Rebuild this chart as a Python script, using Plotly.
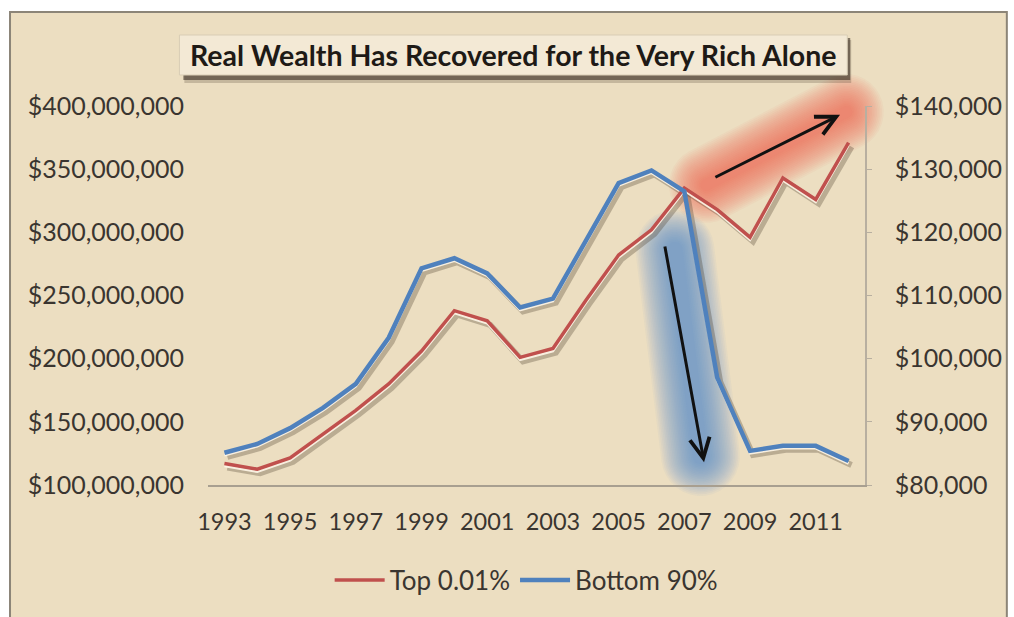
import math
import plotly.graph_objects as go

# ---------------- data ----------------
years = list(range(1993, 2013))
top_001 = [117e6, 112.5e6, 121.5e6, 140e6, 159e6, 180e6, 206e6, 238e6, 230e6, 201e6,
           208e6, 246e6, 282e6, 302e6, 335e6, 318e6, 296e6, 343e6, 326e6, 371e6]
bottom_90 = [85100, 86500, 89000, 92200, 96000, 103300, 114300, 115900, 113500, 108100,
             109500, 118700, 127800, 129800, 126500, 97000, 85400, 86200, 86200, 83800]
tick_years = [1993, 1995, 1997, 1999, 2001, 2003, 2005, 2007, 2009, 2011]
left_ticks = [100e6, 150e6, 200e6, 250e6, 300e6, 350e6, 400e6]
left_labels = ["$100,000,000", "$150,000,000", "$200,000,000", "$250,000,000",
               "$300,000,000", "$350,000,000", "$400,000,000"]
right_ticks = [80000, 90000, 100000, 110000, 120000, 130000, 140000]
right_labels = ["$80,000", "$90,000", "$100,000", "$110,000", "$120,000", "$130,000", "$140,000"]
series_names = ["Top 0.01%", "Bottom 90%"]
title_text = "Real Wealth Has Recovered for the Very Rich Alone"

# ---------------- geometry ----------------
W, H = 1014, 617
L, R, T, B = 208, 875, 106, 485
PW, PH = R - L, B - T
XR = [1992.5, 2012.5]
YL = [100e6, 400e6]
YR = [80000, 140000]


def px(x):
    return (x - L) / PW


def py(y):
    return (B - y) / PH


def xshift(dpx):
    s = dpx * (XR[1] - XR[0]) / PW
    return [XR[0] - s, XR[1] - s]


def yshift(rng, dpx):
    d = dpx * (rng[1] - rng[0]) / PH
    return [rng[0] + d, rng[1] + d]


RED = "#C0504D"
BLUE = "#4F81BD"
TXT = "#3A3530"
FONT = "Lato"

fig = go.Figure()

# shadows (base subplot)
fig.add_trace(go.Scatter(x=years, y=top_001, xaxis="x", yaxis="y", mode="lines",
                         line=dict(color="rgba(70,55,40,0.30)", width=6), showlegend=False,
                         hoverinfo="skip"))
fig.add_trace(go.Scatter(x=years, y=bottom_90, xaxis="x", yaxis="y2", mode="lines",
                         line=dict(color="rgba(70,55,40,0.30)", width=6), showlegend=False,
                         hoverinfo="skip"))
# pale bevel
fig.add_trace(go.Scatter(x=years, y=top_001, xaxis="x2", yaxis="y3", mode="lines",
                         line=dict(color="rgba(255,246,232,0.9)", width=2.5), showlegend=False,
                         hoverinfo="skip"))
fig.add_trace(go.Scatter(x=years, y=bottom_90, xaxis="x2", yaxis="y4", mode="lines",
                         line=dict(color="rgba(255,246,232,0.9)", width=2.5), showlegend=False,
                         hoverinfo="skip"))
# main lines
fig.add_trace(go.Scatter(x=years, y=top_001, xaxis="x2", yaxis="y5", mode="lines",
                         name=series_names[0], line=dict(color=RED, width=3.5)))
fig.add_trace(go.Scatter(x=years, y=bottom_90, xaxis="x2", yaxis="y6", mode="lines",
                         name=series_names[1], line=dict(color=BLUE, width=4.5)))

hidden = dict(visible=False, showgrid=False, zeroline=False)

layout = dict(
    width=W, height=H,
    margin=dict(l=L, r=W - R, t=T, b=H - B),
    paper_bgcolor="white",
    plot_bgcolor="rgba(0,0,0,0)",
    showlegend=True,
    xaxis=dict(range=xshift(3), **hidden),
    yaxis=dict(range=yshift(YL, 4), **hidden),
    yaxis2=dict(range=yshift(YR, 4), overlaying="y", **hidden),
    xaxis2=dict(range=XR, overlaying="x", side="bottom", tickvals=tick_years,
                ticktext=[str(v) for v in tick_years], showgrid=False, zeroline=False,
                showline=True, linecolor="#A89F90", linewidth=1.5, ticks="",
                tickfont=dict(family=FONT, size=23.5, color=TXT), ticklabelstandoff=15),
    yaxis3=dict(range=yshift(YL, 2.5), overlaying="y", **hidden),
    yaxis4=dict(range=yshift(YR, 2.5), overlaying="y", **hidden),
    yaxis5=dict(range=YL, overlaying="y", side="left", tickvals=left_ticks,
                ticktext=left_labels, showgrid=False, zeroline=False, showline=False,
                ticks="", tickfont=dict(family=FONT, size=25, color=TXT),
                ticklabelstandoff=23),
    yaxis6=dict(range=YR, overlaying="y", side="right", tickvals=right_ticks,
                ticktext=right_labels, showgrid=False, zeroline=False, showline=True,
                linecolor="#B8AFA0", linewidth=1.5, ticks="outside", ticklen=5,
                tickcolor="#B8AFA0", tickfont=dict(family=FONT, size=25, color=TXT),
                ticklabelstandoff=18),
    legend=dict(orientation="h", x=px(531), y=py(580), xanchor="center", yanchor="middle",
                font=dict(family=FONT, size=26, color=TXT), bgcolor="rgba(0,0,0,0)",
                itemwidth=50, tracegroupgap=0),
)
fig.update_layout(**layout)

shapes = []
# parchment background
shapes.append(dict(type="rect", xref="paper", yref="paper", layer="below",
                   x0=px(7), x1=px(W + 5), y0=py(H + 5), y1=py(12),
                   fillcolor="#ECDEC1", line=dict(color="#8C8578", width=2)))


def capsule_path(p0, p1, hw, n=16):
    (x0, y0), (x1, y1) = p0, p1
    dx, dy = x1 - x0, y1 - y0
    ln = math.hypot(dx, dy)
    nx, ny = -dy / ln, dx / ln
    a = math.atan2(ny, nx)
    pts = []
    for i in range(n + 1):
        t = a - math.pi * i / n
        pts.append((x1 + hw * math.cos(t), y1 + hw * math.sin(t)))
    for i in range(n + 1):
        t = a - math.pi - math.pi * i / n
        pts.append((x0 + hw * math.cos(t), y0 + hw * math.sin(t)))
    d = "M " + " L ".join(f"{px(x):.5f},{py(y):.5f}" for x, y in pts) + " Z"
    return d


def glow(p0, p1, hw_max, hw_min, steps, color):
    for k in range(steps):
        hw = hw_max - (hw_max - hw_min) * k / (steps - 1)
        shapes.append(dict(type="path", xref="paper", yref="paper", layer="below",
                           path=capsule_path(p0, p1, hw), fillcolor=color,
                           line=dict(width=0)))


glow((714, 185), (856, 112), 38, 6, 20, "rgba(226,95,80,0.05)")
glow((682, 250), (708, 456), 40, 8, 20, "rgba(85,135,210,0.05)")

# title box shadow + box
shapes.append(dict(type="rect", xref="paper", yref="paper", layer="below",
                   x0=px(184), x1=px(861), y0=py(83), y1=py(40),
                   fillcolor="rgba(60,45,30,0.22)", line=dict(width=0)))
shapes.append(dict(type="rect", xref="paper", yref="paper", layer="below",
                   x0=px(183), x1=px(860), y0=py(80), y1=py(38),
                   fillcolor="rgba(45,35,25,0.55)", line=dict(width=0)))
shapes.append(dict(type="rect", xref="paper", yref="paper", layer="below",
                   x0=px(179), x1=px(857), y0=py(75), y1=py(35),
                   fillcolor="#F3E9D5", line=dict(color="#D9CDB5", width=1)))
fig.update_layout(shapes=shapes)

annotations = [
    dict(xref="paper", yref="paper", x=px(518), y=py(55), text=title_text, showarrow=False,
         font=dict(family=FONT, size=28.5, color="#1E1A16", weight="bold"),
         xanchor="center", yanchor="middle"),
    dict(xref="x2", yref="y5", axref="x2", ayref="y5", x=2011.74, y=393e6, ax=2007.9, ay=343e6,
         text="", showarrow=True, arrowhead=5, arrowsize=1.3, arrowwidth=3, arrowcolor="#111111"),
    dict(xref="x2", yref="y5", axref="x2", ayref="y5", x=2007.6, y=118e6, ax=2006.4, ay=290e6,
         text="", showarrow=True, arrowhead=5, arrowsize=1.3, arrowwidth=3, arrowcolor="#111111"),
]
fig.update_layout(annotations=annotations)

fig.write_html("out.html")
